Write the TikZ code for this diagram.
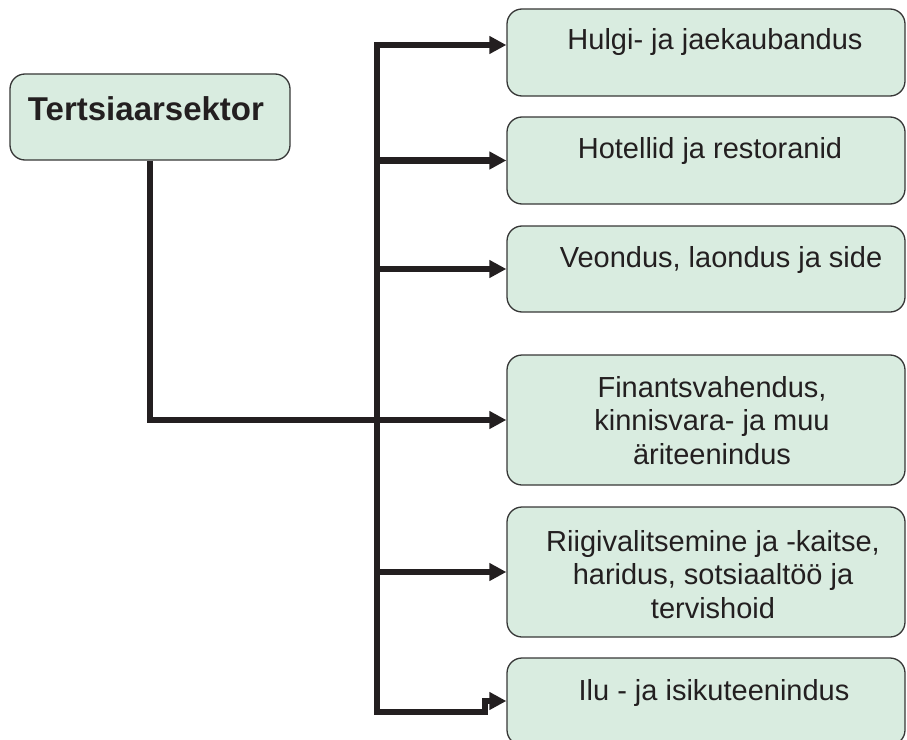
\documentclass[tikz,border=0pt]{standalone}
\usepackage{fontspec}
\setmainfont{Liberation Sans}
\usetikzlibrary{arrows.meta}
\definecolor{boxfill}{RGB}{217,236,224}
\definecolor{boxline}{RGB}{55,55,55}
\definecolor{ink}{RGB}{35,31,32}
\begin{document}
\begin{tikzpicture}[x=1bp,y=-1bp,
  sector/.style={draw=boxline, line width=1.3bp, fill=boxfill,
    rounded corners=15bp, inner sep=0pt, minimum width=398bp},
  label/.style={text=ink, inner sep=0pt, anchor=base, align=center,
    font=\fontsize{29bp}{33.5bp}\selectfont},
  conn/.style={draw=ink, line width=6.5bp, line join=miter,
    -{Triangle[length=17bp,width=17bp]}}]
\useasboundingbox (0,0) rectangle (907,740);

% main sector
\node[sector, minimum width=280bp, minimum height=86bp] (L) at (150,117) {};
\node[label, font=\fontsize{33bp}{38bp}\selectfont\bfseries] (Lt) at (146,120) {Tertsiaarsektor};

% branches
\node[sector, minimum height=87bp]  (b1) at (706,52.5) {};
\node[sector, minimum height=87bp]  (b2) at (706,160.5) {};
\node[sector, minimum height=86bp]  (b3) at (706,269) {};
\node[sector, minimum height=130bp] (b4) at (706,420) {};
\node[sector, minimum height=130bp] (b5) at (706,572) {};
\node[sector, minimum height=87bp]  (b6) at (706,701.5) {};

% branch titles (multi-line ones are placed by their last baseline)
\node[label] (t1) at (715,50) {Hulgi- ja jaekaubandus};
\node[label] (t2) at (710,158) {Hotellid ja restoranid};
\node[label] (t3) at (721,267) {Veondus, laondus ja side};
\node[label] (t4) at (712,464) {Finantsvahendus,\\kinnisvara- ja muu\\äriteenindus};
\node[label] (t5) at (713,618) {Riigivalitsemine ja -kaitse,\\ haridus, sotsiaaltöö ja\\tervishoid};
\node[label] (t6) at (714,700) {Ilu - ja isikuteenindus};

% distribution bus
\coordinate (bustop) at (377,45);
\coordinate (busbot) at (377,712);
\draw[conn] (busbot) -- (bustop) -- (b1.west |- bustop);
\draw[conn] (bustop) -- (busbot) -- (485,712) -- (485,701) -- (b6.west |- 0,701);
\draw[conn] (bustop |- b2.west) -- (b2.west);
\draw[conn] (bustop |- b3.west) -- (b3.west);
\draw[conn] (bustop |- b5.west) -- (b5.west);
\draw[conn] (L.south) |- (b4.west);
\end{tikzpicture}
\end{document}
